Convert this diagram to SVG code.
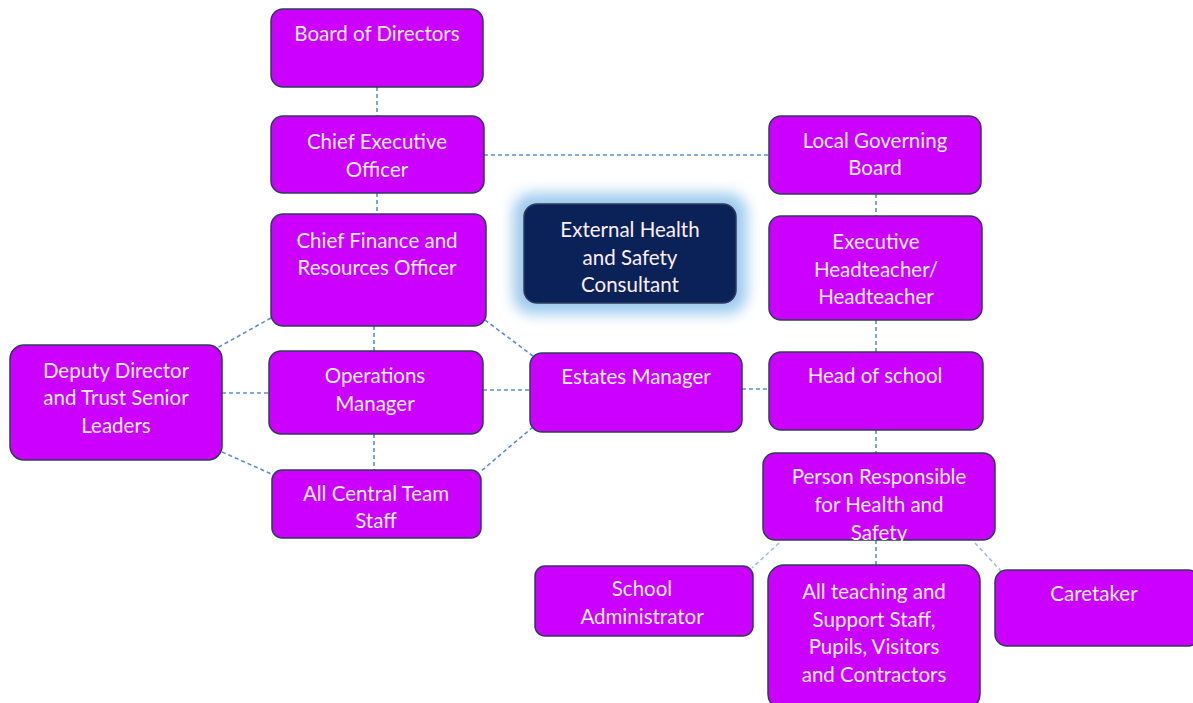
<svg xmlns="http://www.w3.org/2000/svg" width="1193" height="703" viewBox="0 0 1193 703">
<style>
.n{fill:#cc00ff;stroke:#2e3b5a;stroke-width:1.5}
.d{fill:#0b2259;stroke:#2e3b5a;stroke-width:1.5}
.t{font-family:Lato,"Open Sans","Liberation Sans",sans-serif;font-size:20.5px;fill:#fbeeff;text-anchor:middle}
.c line{stroke:#5b8ed0;stroke-width:1.6;stroke-dasharray:4 3}
.c line.f{stroke:#9bbbe4}
</style>
<defs>
<filter id="glow" x="-30%" y="-40%" width="160%" height="180%"><feGaussianBlur stdDeviation="7"/></filter>
</defs>
<rect width="1193" height="703" fill="#ffffff"/>
<g class="c" id="connectors">
<line x1="377" y1="87" x2="377" y2="116"/>
<line x1="484" y1="155" x2="769" y2="155"/>
<line x1="377" y1="193" x2="377" y2="214"/>
<line x1="876" y1="194" x2="876" y2="216"/>
<line x1="876" y1="320" x2="876" y2="352"/>
<line x1="271" y1="318" x2="217" y2="348"/>
<line x1="374" y1="326" x2="374" y2="351"/>
<line x1="485" y1="320" x2="533" y2="356"/>
<line x1="222" y1="393" x2="269" y2="393"/>
<line x1="483" y1="390" x2="530" y2="390"/>
<line x1="742" y1="389" x2="769" y2="389"/>
<line x1="222" y1="452" x2="276" y2="476"/>
<line x1="374" y1="434" x2="374" y2="470"/>
<line x1="533" y1="427" x2="480" y2="472"/>
<line x1="876" y1="430" x2="876" y2="453"/>
<line class="f" x1="779" y1="543" x2="752" y2="568"/>
<line x1="876" y1="540" x2="876" y2="565"/>
<line class="f" x1="975" y1="543" x2="1001" y2="571"/>
</g>
<g id="board"><rect class="n" x="271" y="9" width="212" height="78" rx="12"/><text class="t" x="377" y="41">Board of Directors</text></g>
<g id="ceo"><rect class="n" x="271" y="116" width="213" height="77" rx="12"/><text class="t" x="377" y="149">Chief Executive</text><text class="t" x="377" y="177">Officer</text></g>
<g id="cfo"><rect class="n" x="271" y="214" width="215" height="112" rx="12"/><text class="t" x="377" y="248">Chief Finance and</text><text class="t" x="377" y="275">Resources Officer</text></g>
<g id="external"><rect x="513" y="193" width="234" height="121" rx="20" fill="#9ccaee" filter="url(#glow)"/><rect class="d" x="524" y="204" width="212" height="99" rx="13"/><text class="t" x="630" y="237">External Health</text><text class="t" x="630" y="265">and Safety</text><text class="t" x="630" y="292">Consultant</text></g>
<g id="lgb"><rect class="n" x="769" y="116" width="212" height="78" rx="12"/><text class="t" x="875" y="148">Local Governing</text><text class="t" x="875" y="175">Board</text></g>
<g id="exechead"><rect class="n" x="769" y="216" width="213" height="104" rx="12"/><text class="t" x="876" y="249">Executive</text><text class="t" x="876" y="277">Headteacher/</text><text class="t" x="876" y="304">Headteacher</text></g>
<g id="deputy"><rect class="n" x="10" y="345" width="212" height="115" rx="14"/><text class="t" x="116" y="378">Deputy Director</text><text class="t" x="116" y="405">and Trust Senior</text><text class="t" x="116" y="433">Leaders</text></g>
<g id="ops"><rect class="n" x="269" y="351" width="214" height="83" rx="12"/><text class="t" x="375" y="383">Operations</text><text class="t" x="375" y="411">Manager</text></g>
<g id="estates"><rect class="n" x="530" y="353" width="212" height="79" rx="12"/><text class="t" x="636" y="384">Estates Manager</text></g>
<g id="headschool"><rect class="n" x="769" y="352" width="214" height="78" rx="12"/><text class="t" x="875" y="383">Head of school</text></g>
<g id="central"><rect class="n" x="272" y="470" width="209" height="68" rx="10"/><text class="t" x="376" y="501">All Central Team</text><text class="t" x="376" y="528">Staff</text></g>
<g id="person"><rect class="n" x="763" y="453" width="232" height="87" rx="12"/><text class="t" x="879" y="484">Person Responsible</text><text class="t" x="879" y="512">for Health and</text><text class="t" x="879" y="540">Safety</text></g>
<g id="admin"><rect class="n" x="535" y="566" width="218" height="70" rx="10"/><text class="t" x="642" y="596">School</text><text class="t" x="642" y="624">Administrator</text></g>
<g id="teaching"><rect class="n" x="768" y="565" width="212" height="145" rx="16"/><text class="t" x="874" y="599">All teaching and</text><text class="t" x="874" y="627">Support Staff,</text><text class="t" x="874" y="654">Pupils, Visitors</text><text class="t" x="874" y="682">and Contractors</text></g>
<g id="caretaker"><rect class="n" x="995" y="570" width="205" height="76" rx="12"/><text class="t" x="1094" y="601">Caretaker</text></g>
</svg>
